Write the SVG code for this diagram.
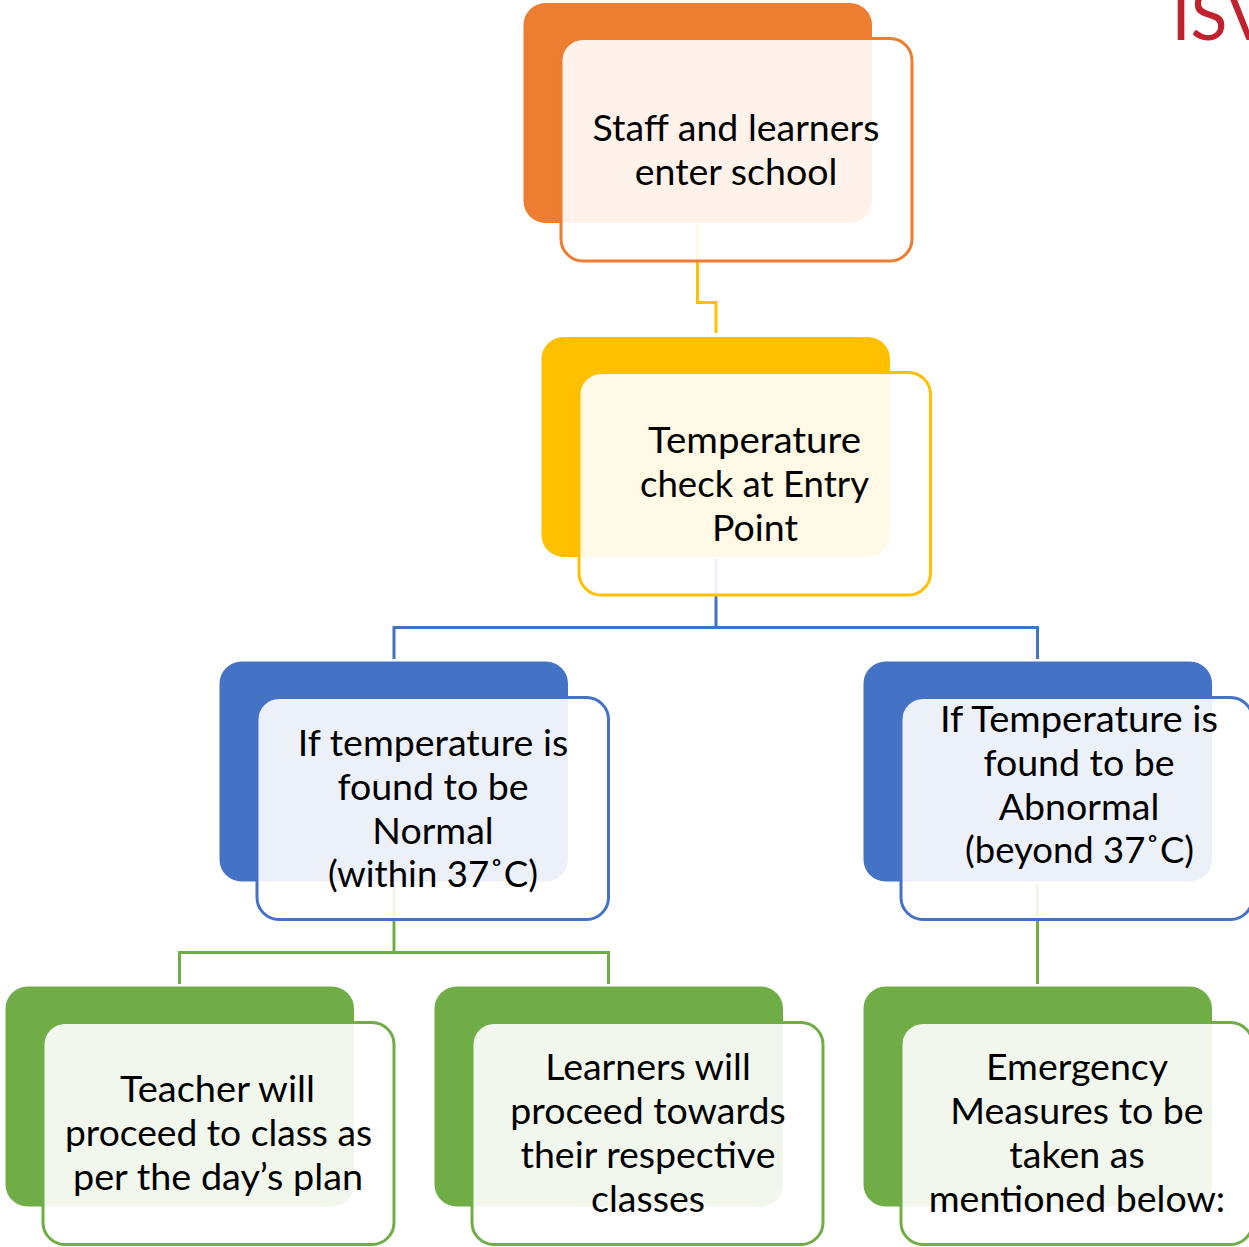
<svg xmlns="http://www.w3.org/2000/svg" width="1249" height="1247" viewBox="0 0 1249 1247">
<style>
.back{rx:22px;ry:22px}
.front{rx:22px;ry:22px;fill:#fff;fill-opacity:.9;stroke-width:3}
.conn{fill:none;stroke-width:3}
text{font-family:"Lato","Liberation Sans",sans-serif;font-size:37.500px;fill:#000;text-anchor:middle}
</style>
<rect width="1249" height="1247" fill="#fff"/>
<text id="logo" x="1171.500" y="40" style="font-size:68px;fill:#c0222e;text-anchor:start;font-weight:400">ISV</text>
<g id="connectors" class="connectors">
<path class="conn" stroke="#ffc000" d="M697.5 225V302.500H716V333"/>
<path class="conn" stroke="#4472c4" d="M716 559V627.500M394 659V627.500H1037.500V659"/>
<path class="conn" stroke="#70ad47" d="M394 884V952.500M179.500 984V952.500H608.500V984M1037.500 884V984"/>
</g>
<g id="node-enter">
<rect class="back" x="523.500" y="3" width="348.500" height="220" fill="#ed7d31"/>
<rect class="front" x="561" y="38.500" width="351" height="222.500" stroke="#ed7d31"/>
<text x="736" y="140.500">Staff and learners</text><text x="736" y="184.500">enter school</text>
</g>
<g id="node-check">
<rect class="back" x="541.500" y="337" width="348.500" height="220" fill="#ffc000"/>
<rect class="front" x="579" y="372.500" width="351.500" height="222.500" stroke="#ffc000"/>
<text x="754.500" y="452.500" textLength="213" lengthAdjust="spacingAndGlyphs">Temperature</text><text x="754.500" y="496.500" textLength="229" lengthAdjust="spacingAndGlyphs">check at Entry</text><text x="755" y="540.500">Point</text>
</g>
<g id="node-normal">
<rect class="back" x="219.500" y="661.500" width="348.500" height="220" fill="#4472c4"/>
<rect class="front" x="257" y="697.500" width="351.500" height="222" stroke="#4472c4"/>
<text x="433" y="756">If temperature is</text><text x="433" y="799.500">found to be</text><text x="433" y="843.500">Normal</text><text x="433" y="887" textLength="210" lengthAdjust="spacingAndGlyphs">(within 37˚C)</text>
</g>
<g id="node-abnormal">
<rect class="back" x="863.500" y="661.500" width="348.500" height="220" fill="#4472c4"/>
<rect class="front" x="901" y="697.500" width="351.500" height="222" stroke="#4472c4"/>
<text x="1079" y="732" textLength="278" lengthAdjust="spacingAndGlyphs">If Temperature is</text><text x="1079" y="776">found to be</text><text x="1079" y="820">Abnormal</text><text x="1079.500" y="863" textLength="229" lengthAdjust="spacingAndGlyphs">(beyond 37˚C)</text>
</g>
<g id="node-teacher">
<rect class="back" x="5.500" y="986.500" width="348.500" height="220" fill="#70ad47"/>
<rect class="front" x="43" y="1022.500" width="351" height="222" stroke="#70ad47"/>
<text x="217.500" y="1102" textLength="195" lengthAdjust="spacingAndGlyphs">Teacher will</text><text x="218.500" y="1146" textLength="307" lengthAdjust="spacingAndGlyphs">proceed to class as</text><text x="218" y="1190" textLength="290" lengthAdjust="spacingAndGlyphs">per the day’s plan</text>
</g>
<g id="node-learners">
<rect class="back" x="434.500" y="986.500" width="348.500" height="220" fill="#70ad47"/>
<rect class="front" x="472" y="1022.500" width="351" height="222" stroke="#70ad47"/>
<text x="648" y="1080">Learners will</text><text x="648" y="1124">proceed towards</text><text x="648" y="1168">their respective</text><text x="648" y="1212">classes</text>
</g>
<g id="node-emergency">
<rect class="back" x="863.500" y="986.500" width="348.500" height="220" fill="#70ad47"/>
<rect class="front" x="901" y="1022.500" width="351.500" height="222" stroke="#70ad47"/>
<text x="1077" y="1080">Emergency</text><text x="1077" y="1124">Measures to be</text><text x="1077" y="1168">taken as</text><text x="1077" y="1212">mentioned below:</text>
</g>
</svg>
